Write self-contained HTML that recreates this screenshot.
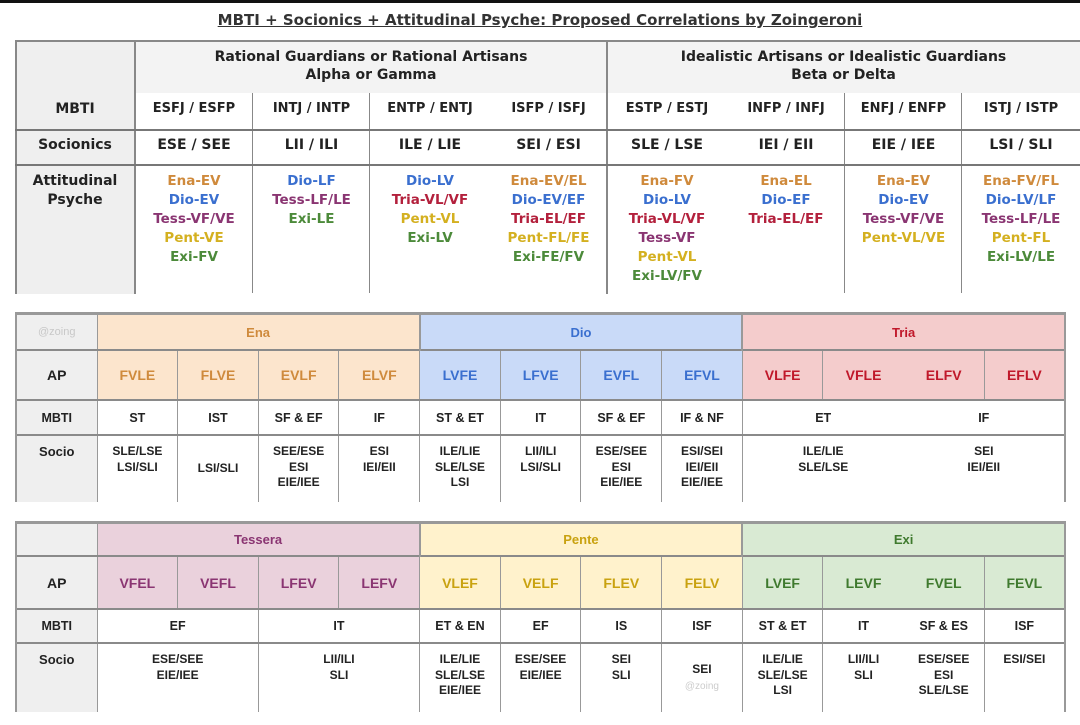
<!DOCTYPE html>
<html><head><meta charset="utf-8">
<style>
body{margin:0;width:1080px;height:725px;background:#fff;position:relative;overflow:hidden;font-family:"DejaVu Sans","Liberation Sans",sans-serif}
.a{position:absolute}
.t{position:absolute;text-align:center;font-weight:bold;font-size:13px;color:#222}
.ap{position:absolute;text-align:center;font-weight:bold;font-size:13.5px;line-height:19px}
.en{color:#cf8a3c}.di{color:#3a6fcf}.te{color:#8a3572}.tr{color:#b3203c}.pe{color:#d4b020}.ex{color:#4c8a3a}
table.b{position:absolute;border-collapse:collapse;table-layout:fixed;font-family:"Liberation Sans",Arial,sans-serif;font-weight:bold;font-size:12.5px;color:#222}
table.b td{text-align:center;padding:0;border-left:1px solid #999;border-top:2px solid #8a8a8a}
table.b td.lab{background:#efefef;border-left:2px solid #999}
table.b td.nl{border-left:none}
table.b tr.h td{height:34px;border-top:3px solid #999;font-size:13px}
table.b tr.p td{height:48px;font-size:14px}
table.b tr.m td{height:33px}
table.b tr.s td{height:58px;vertical-align:top;padding-top:8px;line-height:15.5px;font-size:12px}
table.c tr.h td{height:31px}
table.c tr.p td{height:51px}
table.c tr.m td{height:32px}
table.c tr.s td{height:60px}
</style></head><body>
<div class="a" style="left:0;top:0;width:1080px;height:3px;background:#111"></div>
<div class="t" style="left:0;top:11px;width:1080px;font-size:15px;text-decoration:underline;color:#333">MBTI + Socionics + Attitudinal Psyche: Proposed Correlations by Zoingeroni</div>
<!-- top table -->
<div class="a" style="left:15px;top:40px;width:1065px;height:2px;background:#888"></div>
<div class="a" style="left:15px;top:42px;width:1065px;height:51px;background:#f3f3f3"></div>
<div class="a" style="left:15px;top:42px;width:120px;height:252px;background:#efefef"></div>
<div class="a" style="left:15px;top:40px;width:2px;height:254px;background:#888"></div>
<div class="a" style="left:134px;top:40px;width:2px;height:254px;background:#888"></div>
<div class="a" style="left:606px;top:40px;width:2px;height:254px;background:#888"></div>
<div class="a" style="left:252px;top:93px;width:1px;height:200px;background:#888"></div>
<div class="a" style="left:369px;top:93px;width:1px;height:200px;background:#888"></div>
<div class="a" style="left:844px;top:93px;width:1px;height:200px;background:#888"></div>
<div class="a" style="left:961px;top:93px;width:1px;height:200px;background:#888"></div>
<div class="a" style="left:15px;top:129px;width:1065px;height:2px;background:#777"></div>
<div class="a" style="left:15px;top:164px;width:1065px;height:2px;background:#777"></div>
<div class="t" style="left:135px;top:48px;width:472px;line-height:18px;font-size:14px">Rational Guardians or Rational Artisans<br>Alpha or Gamma</div>
<div class="t" style="left:607px;top:48px;width:473px;line-height:18px;font-size:14px">Idealistic Artisans or Idealistic Guardians<br>Beta or Delta</div>
<div class="t" style="left:15px;top:101px;width:120px;font-size:14px">MBTI</div>
<div class="t" style="left:15px;top:137px;width:120px;font-size:14px">Socionics</div>
<div class="t" style="left:15px;top:172px;width:120px;font-size:14px;line-height:19px">Attitudinal<br>Psyche</div>
<div class="t" style="left:135px;top:101px;width:118px">ESFJ / ESFP</div>
<div class="t" style="left:253px;top:101px;width:117px">INTJ / INTP</div>
<div class="t" style="left:370px;top:101px;width:120px">ENTP / ENTJ</div>
<div class="t" style="left:490px;top:101px;width:117px">ISFP / ISFJ</div>
<div class="t" style="left:607px;top:101px;width:120px">ESTP / ESTJ</div>
<div class="t" style="left:727px;top:101px;width:118px">INFP / INFJ</div>
<div class="t" style="left:845px;top:101px;width:117px">ENFJ / ENFP</div>
<div class="t" style="left:962px;top:101px;width:118px">ISTJ / ISTP</div>
<div class="t" style="left:135px;top:137px;width:118px;font-size:14px">ESE / SEE</div>
<div class="t" style="left:253px;top:137px;width:117px;font-size:14px">LII / ILI</div>
<div class="t" style="left:370px;top:137px;width:120px;font-size:14px">ILE / LIE</div>
<div class="t" style="left:490px;top:137px;width:117px;font-size:14px">SEI / ESI</div>
<div class="t" style="left:607px;top:137px;width:120px;font-size:14px">SLE / LSE</div>
<div class="t" style="left:727px;top:137px;width:118px;font-size:14px">IEI / EII</div>
<div class="t" style="left:845px;top:137px;width:117px;font-size:14px">EIE / IEE</div>
<div class="t" style="left:962px;top:137px;width:118px;font-size:14px">LSI / SLI</div>
<div class="ap" style="left:135px;top:172px;width:118px"><div class="en">Ena-EV</div><div class="di">Dio-EV</div><div class="te">Tess-VF/VE</div><div class="pe">Pent-VE</div><div class="ex">Exi-FV</div></div>
<div class="ap" style="left:253px;top:172px;width:117px"><div class="di">Dio-LF</div><div class="te">Tess-LF/LE</div><div class="ex">Exi-LE</div></div>
<div class="ap" style="left:370px;top:172px;width:120px"><div class="di">Dio-LV</div><div class="tr">Tria-VL/VF</div><div class="pe">Pent-VL</div><div class="ex">Exi-LV</div></div>
<div class="ap" style="left:490px;top:172px;width:117px"><div class="en">Ena-EV/EL</div><div class="di">Dio-EV/EF</div><div class="tr">Tria-EL/EF</div><div class="pe">Pent-FL/FE</div><div class="ex">Exi-FE/FV</div></div>
<div class="ap" style="left:607px;top:172px;width:120px"><div class="en">Ena-FV</div><div class="di">Dio-LV</div><div class="tr">Tria-VL/VF</div><div class="te">Tess-VF</div><div class="pe">Pent-VL</div><div class="ex">Exi-LV/FV</div></div>
<div class="ap" style="left:727px;top:172px;width:118px"><div class="en">Ena-EL</div><div class="di">Dio-EF</div><div class="tr">Tria-EL/EF</div></div>
<div class="ap" style="left:845px;top:172px;width:117px"><div class="en">Ena-EV</div><div class="di">Dio-EV</div><div class="te">Tess-VF/VE</div><div class="pe">Pent-VL/VE</div></div>
<div class="ap" style="left:962px;top:172px;width:118px"><div class="en">Ena-FV/FL</div><div class="di">Dio-LV/LF</div><div class="te">Tess-LF/LE</div><div class="pe">Pent-FL</div><div class="ex">Exi-LV/LE</div></div>

<!-- table 2 -->
<table class="b" style="left:15px;top:312px;width:1049px">
<colgroup><col style="width:81px"><col span="12" style="width:80.67px"></colgroup>
<tr class="h"><td class="lab" style="color:#c8c8c8;font-weight:normal;font-size:11px">@zoing</td>
<td colspan="4" style="background:#fce5cd;color:#cf8a3c">Ena</td>
<td colspan="4" style="background:#c9daf8;color:#3a6fcf;border-left:2px solid #999">Dio</td>
<td colspan="4" style="background:#f4cccc;color:#c0182a;border-left:2px solid #999;border-right:2px solid #999">Tria</td></tr>
<tr class="p"><td class="lab">AP</td>
<td style="background:#fce5cd;color:#cf8a3c">FVLE</td><td style="background:#fce5cd;color:#cf8a3c">FLVE</td><td style="background:#fce5cd;color:#cf8a3c">EVLF</td><td style="background:#fce5cd;color:#cf8a3c">ELVF</td>
<td style="background:#c9daf8;color:#3a6fcf">LVFE</td><td style="background:#c9daf8;color:#3a6fcf">LFVE</td><td style="background:#c9daf8;color:#3a6fcf">EVFL</td><td style="background:#c9daf8;color:#3a6fcf">EFVL</td>
<td style="background:#f4cccc;color:#c0182a">VLFE</td><td style="background:#f4cccc;color:#c0182a">VFLE</td><td class="nl" style="background:#f4cccc;color:#c0182a">ELFV</td><td style="background:#f4cccc;color:#c0182a;border-right:2px solid #999">EFLV</td></tr>
<tr class="m"><td class="lab">MBTI</td><td>ST</td><td>IST</td><td>SF &amp; EF</td><td>IF</td><td>ST &amp; ET</td><td>IT</td><td>SF &amp; EF</td><td>IF &amp; NF</td><td colspan="2">ET</td><td colspan="2" class="nl" style="border-right:2px solid #999">IF</td></tr>
<tr class="s"><td class="lab" style="font-size:13px">Socio</td><td>SLE/LSE<br>LSI/SLI</td><td style="vertical-align:middle;padding:0">LSI/SLI</td><td>SEE/ESE<br>ESI<br>EIE/IEE</td><td>ESI<br>IEI/EII</td><td>ILE/LIE<br>SLE/LSE<br>LSI</td><td>LII/ILI<br>LSI/SLI</td><td>ESE/SEE<br>ESI<br>EIE/IEE</td><td>ESI/SEI<br>IEI/EII<br>EIE/IEE</td><td colspan="2">ILE/LIE<br>SLE/LSE</td><td colspan="2" class="nl" style="border-right:2px solid #999">SEI<br>IEI/EII</td></tr>
</table>

<!-- table 3 -->
<table class="b c" style="left:15px;top:521px;width:1049px">
<colgroup><col style="width:81px"><col span="12" style="width:80.67px"></colgroup>
<tr class="h"><td class="lab"></td>
<td colspan="4" style="background:#ead1dc;color:#8a3572">Tessera</td>
<td colspan="4" style="background:#fff2cc;color:#c9a210;border-left:2px solid #999">Pente</td>
<td colspan="4" style="background:#d9ead3;color:#3f7a2e;border-left:2px solid #999;border-right:2px solid #999">Exi</td></tr>
<tr class="p"><td class="lab">AP</td>
<td style="background:#ead1dc;color:#8a3572">VFEL</td><td style="background:#ead1dc;color:#8a3572">VEFL</td><td style="background:#ead1dc;color:#8a3572">LFEV</td><td style="background:#ead1dc;color:#8a3572">LEFV</td>
<td style="background:#fff2cc;color:#c9a210">VLEF</td><td style="background:#fff2cc;color:#c9a210">VELF</td><td style="background:#fff2cc;color:#c9a210">FLEV</td><td style="background:#fff2cc;color:#c9a210">FELV</td>
<td style="background:#d9ead3;color:#3f7a2e">LVEF</td><td style="background:#d9ead3;color:#3f7a2e">LEVF</td><td class="nl" style="background:#d9ead3;color:#3f7a2e">FVEL</td><td style="background:#d9ead3;color:#3f7a2e;border-right:2px solid #999">FEVL</td></tr>
<tr class="m"><td class="lab">MBTI</td><td colspan="2">EF</td><td colspan="2">IT</td><td>ET &amp; EN</td><td>EF</td><td>IS</td><td>ISF</td><td>ST &amp; ET</td><td>IT</td><td class="nl">SF &amp; ES</td><td style="border-right:2px solid #999">ISF</td></tr>
<tr class="s"><td class="lab" style="font-size:13px">Socio</td><td colspan="2">ESE/SEE<br>EIE/IEE</td><td colspan="2">LII/ILI<br>SLI</td><td>ILE/LIE<br>SLE/LSE<br>EIE/IEE</td><td>ESE/SEE<br>EIE/IEE</td><td>SEI<br>SLI</td><td style="vertical-align:middle;padding:0">SEI<br><span style="color:#ccc;font-weight:normal;font-size:10px">@zoing</span></td><td>ILE/LIE<br>SLE/LSE<br>LSI</td><td>LII/ILI<br>SLI</td><td class="nl">ESE/SEE<br>ESI<br>SLE/LSE</td><td style="border-right:2px solid #999">ESI/SEI</td></tr>
</table>
</body></html>
